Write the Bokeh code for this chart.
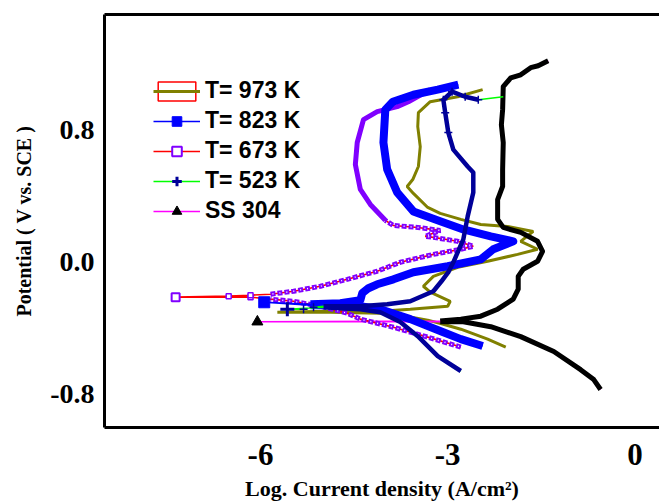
from bokeh.plotting import figure
from bokeh.models import (Range1d, LinearAxis, FixedTicker, Legend, LegendItem,
                          PrintfTickFormatter)
from bokeh.embed import file_html
from bokeh.resources import INLINE

NAN = float("nan")

# ---------------- data (log i [A/cm2], E [V vs SCE]) ----------------
x_ticks = [-6, -3, 0]
y_ticks = [-0.8, 0.0, 0.8]

# SS 304
ss_cat_x = [-0.55, -0.66, -0.87, -1.30, -1.83, -2.31, -2.75, -3.12]
ss_cat_y = [-0.77, -0.71, -0.65, -0.54, -0.45, -0.39, -0.36, -0.36]
ss_ecorr = (-6.05, -0.36)
ss_an_x = [-3.12, -2.79, -2.47, -2.20, -1.95, -1.87, -1.87, -1.79, -1.56, -1.48, -1.56, -1.83, -2.11,
           -2.20, -2.20, -2.12, -2.12, -2.11, -2.14, -2.12, -2.11, -1.99, -1.83, -1.67, -1.55, -1.39]
ss_an_y = [-0.356, -0.344, -0.326, -0.284, -0.223, -0.163, -0.085, -0.042, 0.006, 0.066, 0.127, 0.181,
           0.211, 0.260, 0.380, 0.459, 0.562, 0.725, 0.833, 0.924, 1.063, 1.117, 1.135, 1.178, 1.190, 1.220]

# T = 973 K
t973_cat_x = [-2.07, -2.36, -2.79, -3.07, -3.32, -3.76, -4.08, -4.88]
t973_cat_y = [-0.513, -0.465, -0.405, -0.375, -0.350, -0.320, -0.308, -0.302]
t973_ecorr = (-5.73, -0.302)
t973_an_x = [-4.88, -4.08, -3.60, -3.00, -2.96, -3.28, -3.39, -3.23, -2.84, -2.36, -1.88, -1.56, -1.83,
             -1.63, -2.04, -2.47, -2.79, -3.12, -3.32, -3.55, -3.65, -3.56, -3.47, -3.44, -3.48, -3.47,
             -3.28, -2.84, -2.44]
t973_an_y = [-0.296, -0.296, -0.284, -0.266, -0.236, -0.181, -0.145, -0.085, -0.030, 0.006, 0.048, 0.079,
             0.127, 0.187, 0.217, 0.229, 0.260, 0.296, 0.332, 0.417, 0.459, 0.501, 0.580, 0.700, 0.821,
             0.906, 0.972, 1.002, 1.045]

# T = 823 K
t823_cat_x = [-2.44, -2.79, -3.07, -3.60, -4.08, -4.40, -4.88, -5.20]
t823_cat_y = [-0.507, -0.465, -0.423, -0.344, -0.284, -0.266, -0.260, -0.260]
t823_ecorr = (-5.94, -0.242)
t823_an_x = [-5.20, -4.72, -4.40, -4.37, -4.27, -4.13, -3.87, -3.55, -3.00, -2.47, -2.27, -1.95,
             -2.31, -2.75, -3.12, -3.55, -3.81, -3.97, -4.03, -4.00, -3.88, -3.55, -3.16, -2.83]
t823_an_y = [-0.254, -0.248, -0.229, -0.187, -0.157, -0.133, -0.103, -0.060, -0.024, 0.018, 0.079, 0.127,
             0.157, 0.199, 0.248, 0.308, 0.423, 0.562, 0.725, 0.924, 0.972, 1.014, 1.045, 1.075]

# T = 673 K
t673_cat_x = [-2.79, -3.32, -3.87, -4.40, -4.61, -5.04, -5.47, -5.84, -6.16]
t673_cat_y = [-0.513, -0.453, -0.393, -0.344, -0.308, -0.266, -0.236, -0.223, -0.211]
t673_ecorr = (-7.36, -0.211)
t673_an_x = [-6.51, -6.16, -5.84, -5.47, -5.04, -4.61, -4.13, -3.76, -3.23, -2.79, -2.59, -2.84, -3.23,
             -3.36, -3.12, -3.48, -3.87, -4.00, -4.24, -4.40, -4.48, -4.45, -4.35, -4.13, -3.81, -3.63, -3.28]
t673_an_y = [-0.205, -0.199, -0.193, -0.175, -0.145, -0.103, -0.054, 0.000, 0.048, 0.079, 0.097, 0.127,
             0.151, 0.157, 0.193, 0.211, 0.223, 0.254, 0.350, 0.441, 0.592, 0.725, 0.864, 0.912, 0.942,
             0.972, 1.045]

# T = 523 K
t523_cat_x = [-2.79, -3.16, -3.48, -3.76, -4.08, -4.40, -4.72, -4.99]
t523_cat_y = [-0.658, -0.568, -0.447, -0.362, -0.302, -0.284, -0.278, -0.272]
t523_ecorr = (-5.57, -0.284)
t523_an_x = [-5.31, -5.15, -4.99, -4.72, -4.40, -3.97, -3.60, -3.23, -3.10, -2.99, -2.91, -2.75, -2.68,
             -2.59, -2.59, -2.68, -2.91, -2.99, -3.04, -3.07, -2.93, -2.72, -2.51, -2.11]
t523_an_y = [-0.284, -0.272, -0.266, -0.266, -0.266, -0.254, -0.236, -0.175, -0.115, -0.060, 0.000, 0.139,
             0.278, 0.423, 0.543, 0.580, 0.682, 0.785, 0.906, 0.984, 1.033, 1.002, 0.984, 1.002]

labels = ["T= 973 K", "T= 823 K", "T= 673 K", "T= 523 K", "SS 304"]

# ---------------- helpers ----------------
def full(cx, cy, e, ax, ay):
    return list(cx) + [e[0]] + list(ax), list(cy) + [e[1]] + list(ay)


def join(*segs):
    X, Y = [], []
    for i, (xs, ys) in enumerate(segs):
        if i:
            X.append(NAN)
            Y.append(NAN)
        X += list(xs)
        Y += list(ys)
    return X, Y


OLIVE = "#808000"
BLUE = "#0000ff"
NAVY = "#000099"
PURPLE = "#8000ff"
FONT_SERIF = "Liberation Serif"
FONT_SANS = "Liberation Sans"
THIN = 1.6

p = figure(width=659, height=503, x_range=Range1d(-8.5, 0.394), y_range=Range1d(-1.0, 1.5),
           output_backend="svg", toolbar_location=None,
           min_border_left=104, min_border_right=0, min_border_top=14, min_border_bottom=75)
p.xgrid.visible = False
p.ygrid.visible = False
p.outline_line_color = None
p.background_fill_color = "white"
p.border_fill_color = "white"

for ax in (p.xaxis[0], p.yaxis[0]):
    ax.axis_line_width = 3
    ax.axis_line_color = "black"
    ax.major_tick_line_color = None
    ax.minor_tick_line_color = None
    ax.major_tick_out = 0
    ax.major_tick_in = 0
    ax.minor_tick_out = 0
    ax.minor_tick_in = 0
    ax.major_label_text_font = FONT_SERIF
    ax.major_label_text_font_style = "bold"
    ax.major_label_text_color = "black"
    ax.axis_label_text_font = FONT_SERIF
    ax.axis_label_text_font_style = "bold"
    ax.axis_label_text_color = "black"

xa = p.xaxis[0]
xa.ticker = FixedTicker(ticks=x_ticks)
xa.formatter = PrintfTickFormatter(format="%d")
xa.major_label_text_font_size = "31px"
xa.major_label_standoff = 16
xa.axis_label = "Log. Current density (A/cm²)"
xa.axis_label_text_font_size = "22px"
xa.axis_label_standoff = 8

ya = p.yaxis[0]
ya.ticker = FixedTicker(ticks=y_ticks)
ya.formatter = PrintfTickFormatter(format="%.1f")
ya.major_label_text_font_size = "28px"
ya.major_label_standoff = 10
ya.axis_label = "Potential ( V vs. SCE )"
ya.axis_label_text_font_size = "20px"
ya.axis_label_standoff = 12

top = LinearAxis(ticker=FixedTicker(ticks=[]), axis_line_width=3, axis_line_color="black",
                 major_tick_out=0, major_tick_in=0, minor_tick_out=0, minor_tick_in=0)
p.add_layout(top, "above")

# ---------------- curves ----------------
# T = 973 K : olive line
x973, y973 = full(t973_cat_x, t973_cat_y, t973_ecorr, t973_an_x, t973_an_y)
r973 = p.line(x973, y973, line_color=OLIVE, line_width=3)

# SS 304 : black thick dense branches, magenta thin connector
xs_ss, ys_ss = full(ss_cat_x, ss_cat_y, ss_ecorr, ss_an_x, ss_an_y)
thin304 = p.line(xs_ss, ys_ss, line_color="#ff00ff", line_width=THIN)
bx, by = join((ss_cat_x, ss_cat_y), (ss_an_x, ss_an_y))
p.line(bx, by, line_color="black", line_width=5, line_join="round")

# T = 673 K : red thin line + violet hollow squares
x673, y673 = full(t673_cat_x, t673_cat_y, t673_ecorr, t673_an_x, t673_an_y)
thin673 = p.line(x673, y673, line_color="#ff0000", line_width=THIN)
cx, cy = join((t673_cat_x[:8], t673_cat_y[:8]), (t673_an_x[2:18], t673_an_y[2:18]))
p.line(cx, cy, line_color=PURPLE, line_width=5, line_dash="5 2")
p.line(cx, cy, line_color="white", line_width=1.5, line_dash="1 6", line_dash_offset=-2)
p.line(t673_an_x[17:], t673_an_y[17:], line_color=PURPLE, line_width=5, line_join="round")
sp_x = [t673_cat_x[8]] + t673_an_x[:2]
sp_y = [t673_cat_y[8]] + t673_an_y[:2]
p.scatter(sp_x, sp_y, marker="square", size=5, fill_color="white", line_color=PURPLE, line_width=1.5)

# T = 823 K : blue thick + big squares
x823, y823 = full(t823_cat_x, t823_cat_y, t823_ecorr, t823_an_x, t823_an_y)
thin823 = p.line(x823, y823, line_color=BLUE, line_width=THIN)
bx, by = join((t823_cat_x, t823_cat_y), (t823_an_x, t823_an_y))
p.line(bx, by, line_color=BLUE, line_width=8, line_join="round")

# T = 523 K : navy thick + plus, green thin
x523, y523 = full(t523_cat_x, t523_cat_y, t523_ecorr, t523_an_x, t523_an_y)
thin523 = p.line(x523, y523, line_color="#00ff00", line_width=THIN)
nx, ny = join((t523_cat_x, t523_cat_y), (t523_an_x[2:-1], t523_an_y[2:-1]))
p.line(nx, ny, line_color=NAVY, line_width=4.5, line_join="round")
px_ = t523_an_x[:2] + t523_an_x[17:-1]
py_ = t523_an_y[:2] + t523_an_y[17:-1]
p.scatter(px_, py_, marker="cross", size=8, line_color=NAVY, line_width=1.5)

# E_corr markers
m823 = p.scatter([t823_ecorr[0]], [t823_ecorr[1]], marker="square", size=11, fill_color=BLUE, line_color=BLUE)
m673 = p.scatter([t673_ecorr[0]], [t673_ecorr[1]], marker="square", size=8, fill_color="white",
                 line_color=PURPLE, line_width=2)
m523 = p.scatter([t523_ecorr[0]], [t523_ecorr[1]], marker="cross", size=14, line_color=NAVY, line_width=3)
m304 = p.scatter([ss_ecorr[0]], [ss_ecorr[1]], marker="triangle", size=11, fill_color="black", line_color="black")

# legend-only frame (selected-item box of the first entry); NaN data draws nothing in the plot
box = p.quad(left=[NAN], right=[NAN], top=[NAN], bottom=[NAN], fill_color=None,
             line_color="#ff0000", line_width=1.5)

legend = Legend(items=[
    LegendItem(label=labels[0], renderers=[box, r973]),
    LegendItem(label=labels[1], renderers=[thin823, m823]),
    LegendItem(label=labels[2], renderers=[thin673, m673]),
    LegendItem(label=labels[3], renderers=[thin523, m523]),
    LegendItem(label=labels[4], renderers=[thin304, m304]),
], location=(49, 203), padding=0, margin=0, spacing=3, glyph_width=47, glyph_height=24,
    label_height=24, label_standoff=5, label_text_font=FONT_SANS, label_text_font_style="bold",
    label_text_font_size="23px", label_text_color="black", border_line_color=None,
    background_fill_alpha=0)
p.add_layout(legend)

open("out.html", "w").write(file_html(p, INLINE))
